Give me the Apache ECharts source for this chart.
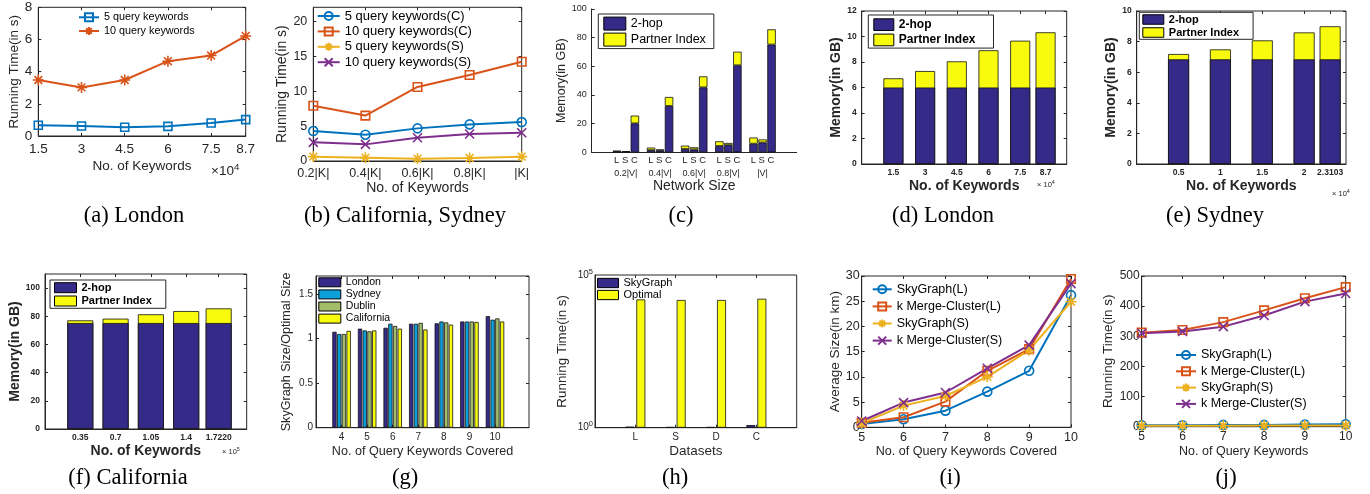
<!DOCTYPE html>
<html><head><meta charset="utf-8">
<script src="https://cdn.jsdelivr.net/npm/echarts@6/dist/echarts.min.js"></script>
<style>html,body{margin:0;padding:0;background:#fff}#c{width:1370px;height:494px}</style>
</head><body><div id="c"></div>
<script>
// ---------------- data ----------------
const aX = [1.5, 3, 4.5, 6, 7.5, 8.7];
const a5 = [0.67, 0.62, 0.54, 0.60, 0.81, 1.02];
const a10 = [3.48, 3.02, 3.48, 4.65, 5.00, 6.22];

const bCats = ['0.2|K|', '0.4|K|', '0.6|K|', '0.8|K|', '|K|'];
const bC5 = [4.29, 3.76, 4.67, 5.24, 5.57];
const bC10 = [7.9, 6.5, 10.6, 12.3, 14.2];
const bS5 = [0.62, 0.48, 0.33, 0.43, 0.62];
const bS10 = [2.67, 2.38, 3.33, 3.86, 4.05];

const cCats = ['0.2|V|', '0.4|V|', '0.6|V|', '0.8|V|', '|V|'];
const cSub = ['L', 'S', 'C'];
const cL2hop = [0.6, 1.5, 2.3, 4.4, 6.0];
const cLPart = [0.4, 1.8, 2.35, 3.3, 4.3];
const cS2hop = [0.4, 1.3, 2.0, 5.0, 6.85];
const cSPart = [0.3, 0.7, 1.5, 1.5, 2.15];
const cC2hop = [20.2, 32.3, 45.3, 60.7, 75.2];
const cCPart = [5.4, 6.3, 7.7, 9.5, 10.6];

const dX = [1.5, 3, 4.5, 6, 7.5, 8.7];
const dTicks = ['1.5', '3', '4.5', '6', '7.5', '8.7'];
const d2hop = [6, 6, 6, 6, 6, 6];
const dPart = [0.72, 1.29, 2.05, 2.92, 3.67, 4.33];

const eX = [0.5, 1, 1.5, 2, 2.3103];
const eTicks = ['0.5', '1', '1.5', '2', '2.3103'];
const e2hop = [6.84, 6.84, 6.84, 6.84, 6.84];
const ePart = [0.35, 0.65, 1.24, 1.76, 2.16];

const fX = [0.35, 0.7, 1.05, 1.4, 1.722];
const fTicks = ['0.35', '0.7', '1.05', '1.4', '1.7220'];
const f2hop = [75.2, 75.2, 75.2, 75.2, 75.2];
const fPart = [1.9, 3.1, 6.2, 8.5, 10.4];

const gCats = ['4', '5', '6', '7', '8', '9', '10'];
const gLondon = [1.075, 1.11, 1.12, 1.165, 1.17, 1.19, 1.25];
const gSydney = [1.05, 1.09, 1.165, 1.165, 1.19, 1.19, 1.21];
const gDublin = [1.05, 1.08, 1.14, 1.175, 1.18, 1.19, 1.225];
const gCalifornia = [1.085, 1.09, 1.11, 1.10, 1.155, 1.185, 1.19];

const hCats = ['L', 'S', 'D', 'C'];
const hSky = [1.08, 1.05, 1.05, 1.22];
const hOpt = [15800, 15200, 15200, 16700];

const iX = [5, 6, 7, 8, 9, 10];
const iSkyL = [0.66, 1.6, 3.3, 7.07, 11.2, 26.2];
const iKmcL = [0.9, 2.0, 5.1, 11.2, 15.5, 29.4];
const iSkyS = [0.8, 4.3, 6.2, 10.0, 15.3, 24.9];
const iKmcS = [1.25, 4.9, 6.9, 11.7, 16.3, 28.5];

const jX = [5, 6, 7, 8, 9, 10];
const jSkyL = [5, 5, 6, 6, 7, 8];
const jKmcL = [312, 321, 347, 386, 426, 463];
const jSkyS = [3, 3, 3, 4, 4, 4];
const jKmcS = [310, 316, 332, 369, 415, 442];

// ---------------- styling helpers ----------------
const FONT = 'Liberation Sans';
const SERIF = 'Liberation Serif';
const TXT = '#262626';
const BLUE = '#0072BD', ORANGE = '#D95319', YEL = '#EDB120', PURP = '#7E2F8E';
const NAVY = '#352A87', BYEL = '#F9FB0E', CYAN = '#0D9FD9', OLIVE = '#A3BD6A';
const STAR = 'path://M0,-10L0,10M-10,0L10,0M-7.07,-7.07L7.07,7.07M-7.07,7.07L7.07,-7.07';
const XMARK = 'path://M-10,-10L10,10M-10,10L10,-10';

const grids = [], xAxes = [], yAxes = [], series = [], legends = [], graphics = [];

function merge(a, b) {
  const out = Object.assign({}, a);
  for (const k in b) {
    const bv = b[k], av = a[k];
    if (bv && typeof bv === 'object' && !Array.isArray(bv) && av && typeof av === 'object' && !Array.isArray(av)) out[k] = merge(av, bv);
    else out[k] = bv;
  }
  return out;
}
function addGrid(l, t, r, b, box) {
  grids.push({left: l, top: t, width: r - l, height: b - t, show: !!box, borderColor: TXT, borderWidth: 1, backgroundColor: 'transparent'});
  return grids.length - 1;
}
function addX(o) { xAxes.push(o); return xAxes.length - 1; }
function addY(o) { yAxes.push(o); return yAxes.length - 1; }
function baseAxis(fs, bold) {
  const fw = bold ? 'bold' : 'normal';
  return {
    axisLine: {show: true, onZero: false, lineStyle: {color: TXT, width: 1}},
    axisTick: {show: true, inside: true, length: 3, lineStyle: {color: TXT}},
    axisLabel: {show: true, color: TXT, fontSize: fs, fontFamily: FONT, fontWeight: fw},
    splitLine: {show: false},
    nameLocation: 'middle',
    nameTextStyle: {color: TXT, fontSize: fs, fontFamily: FONT, fontWeight: fw}
  };
}
function mirror(g, xo, yo, noYTicks) {
  const hide = {axisLine: {show: false}, axisLabel: {show: false}, name: ''};
  xAxes.push(merge(xo, Object.assign({gridIndex: g, position: 'top'}, hide)));
  const y2 = merge(yo, Object.assign({gridIndex: g, position: 'right'}, hide));
  if (noYTicks) y2.axisTick = {show: false};
  yAxes.push(y2);
}
function lineS(name, xs, ys, xa, ya, color, symbol, size) {
  return {type: 'line', name, xAxisIndex: xa, yAxisIndex: ya, data: xs.map((x, i) => [x, ys[i]]),
    symbol, symbolSize: size, showAllSymbol: true, color, clip: false,
    lineStyle: {color, width: 2},
    itemStyle: {color: 'rgba(255,255,255,0)', borderColor: color, borderWidth: 1.6},
    emphasis: {disabled: true}};
}
function barS(name, data, xa, ya, color, stack, bw, gap) {
  const s = {type: 'bar', name, xAxisIndex: xa, yAxisIndex: ya, data, barWidth: bw,
    itemStyle: {color, borderColor: '#111', borderWidth: 0.8}, emphasis: {disabled: true}};
  if (stack) s.stack = stack;
  if (gap != null) s.barGap = gap;
  return s;
}
function legendL(left, firstCenter, spacing, names, fs, iw, ih) {
  return {left, top: firstCenter - spacing / 2, orient: 'vertical', padding: 0, itemGap: 0,
    itemWidth: iw, itemHeight: ih, data: names, selectedMode: false,
    textStyle: {fontFamily: FONT, fontSize: fs, color: '#000', lineHeight: spacing}};
}
function legendP(left, firstCenter, spacing, names, fs, iw, ih) {
  const o = legendL(left, firstCenter, spacing, names, fs, iw, ih);
  o.icon = 'rect';
  o.itemStyle = {borderColor: '#000', borderWidth: 1};
  return o;
}
function legendB(left, top, names, fs, iw, ih, gap, pad, bold) {
  return {left, top, orient: 'vertical', padding: pad, itemGap: gap, itemWidth: iw, itemHeight: ih,
    icon: 'rect', data: names, selectedMode: false, borderColor: TXT, borderWidth: 1, backgroundColor: '#fff',
    itemStyle: {borderColor: '#000', borderWidth: 1},
    textStyle: {fontFamily: FONT, fontSize: fs, fontWeight: bold ? 'bold' : 'normal', color: '#000'}};
}
function supText(x, y, base, sup, fs, bold) {
  const fw = bold ? 'bold' : 'normal';
  return {type: 'text', x, y, silent: true, style: {
    text: '{a|' + base + '}{b|' + sup + '}',
    rich: {a: {fontSize: fs, fontFamily: FONT, fontWeight: fw, fill: TXT},
           b: {fontSize: fs * 0.72, fontFamily: FONT, fontWeight: fw, fill: TXT, padding: [0, 0, fs * 0.6, 0]}},
    align: 'left', verticalAlign: 'middle', textAlign: 'left', textVerticalAlign: 'middle'}};
}
function caption(x, y, t) {
  return {type: 'text', x, y, silent: true, style: {text: t, fontSize: 22.5, fontFamily: SERIF, fill: '#000',
    align: 'center', verticalAlign: 'middle', textAlign: 'center', textVerticalAlign: 'middle'}};
}

// ---------------- (a) ----------------
(function () {
  const g = addGrid(38.3, 7.3, 245.7, 136, true);
  const xo = merge(baseAxis(13.5), {gridIndex: g, type: 'value', min: 1.5, max: 8.7,
    axisTick: {customValues: aX}, axisLabel: {customValues: aX, margin: 6},
    name: 'No. of Keywords', nameGap: 23});
  const yo = merge(baseAxis(13.5), {gridIndex: g, type: 'value', min: 0, max: 8, interval: 2,
    axisLabel: {margin: 6}, name: 'Running Time(in s)', nameGap: 16});
  const xa = addX(xo), ya = addY(yo); mirror(g, xo, yo);
  series.push(lineS('5 query keywords', aX, a5, xa, ya, BLUE, 'rect', 8));
  series.push(lineS('10 query keywords', aX, a10, xa, ya, ORANGE, STAR, 11));
  legends.push(legendL(78, 17.3, 13.7, ['5 query keywords', '10 query keywords'], 10.8, 20, 10));
  graphics.push(supText(211, 171, '×10', '4', 13.5));
})();

// ---------------- (b) ----------------
(function () {
  const g = addGrid(313.3, 7.3, 521.7, 161, true);
  const xo = merge(baseAxis(12.5), {gridIndex: g, type: 'category', data: bCats, boundaryGap: false,
    axisLabel: {margin: 6, interval: 0}, name: 'No. of Keywords', nameGap: 19, nameTextStyle: {fontSize: 14}});
  const yo = merge(baseAxis(12.5), {gridIndex: g, type: 'value', min: 0, max: 22, interval: 5,
    axisLabel: {margin: 6, showMaxLabel: false}, name: 'Running Time(in s)', nameGap: 21, nameTextStyle: {fontSize: 14}});
  const xa = addX(xo), ya = addY(yo); mirror(g, xo, yo);
  series.push(lineS('5 query keywords(C)', bCats, bC5, xa, ya, BLUE, 'circle', 9));
  series.push(lineS('10 query keywords(C)', bCats, bC10, xa, ya, ORANGE, 'rect', 8.5));
  series.push(lineS('5 query keywords(S)', bCats, bS5, xa, ya, YEL, STAR, 11));
  series.push(lineS('10 query keywords(S)', bCats, bS10, xa, ya, PURP, XMARK, 9));
  legends.push(legendL(316.7, 16, 15.4, ['5 query keywords(C)', '10 query keywords(C)', '5 query keywords(S)', '10 query keywords(S)'], 13, 22, 10));
})();

// ---------------- (c) ----------------
(function () {
  const L = 591.7, T = 9, R = 796.7, B = 152.3, unit = (R - L) / 6;
  const g = addGrid(L, T, R, B, false);
  addX(merge(baseAxis(9), {gridIndex: g, type: 'value', min: 0, max: 6, axisTick: {show: false},
    axisLabel: {show: false}, name: 'Network Size', nameGap: 27, nameTextStyle: {fontSize: 14}}));
  addY(merge(baseAxis(9), {gridIndex: g, type: 'value', min: 0, max: 100, interval: 20,
    axisLabel: {margin: 5}, name: 'Memory(in GB)', nameGap: 24, nameTextStyle: {fontSize: 12.5}}));
  const g2 = addGrid(L + unit * 0.5, T, R - unit * 0.5, B, false);
  const sub = cSub.join(' ');
  const xa = addX({gridIndex: g2, type: 'category', data: cCats, axisLine: {show: false}, axisTick: {show: false},
    axisLabel: {margin: 2, interval: 0, formatter: v => '{a|' + sub + '}\n{b|' + v + '}',
      rich: {a: {fontSize: 9.5, fontFamily: FONT, color: TXT, lineHeight: 13},
             b: {fontSize: 9, fontFamily: FONT, color: TXT, lineHeight: 13}}}});
  const ya = addY({gridIndex: g2, type: 'value', min: 0, max: 100, show: false});
  series.push(barS('2-hop', cL2hop, xa, ya, NAVY, 'cL', 8.5, '6%'));
  series.push(barS('Partner Index', cLPart, xa, ya, BYEL, 'cL', 8.5, '6%'));
  series.push(barS('2-hop', cS2hop, xa, ya, NAVY, 'cS', 8.5, '6%'));
  series.push(barS('Partner Index', cSPart, xa, ya, BYEL, 'cS', 8.5, '6%'));
  series.push(barS('2-hop', cC2hop, xa, ya, NAVY, 'cC', 8.5, '6%'));
  series.push(barS('Partner Index', cCPart, xa, ya, BYEL, 'cC', 8.5, '6%'));
  legends.push(legendB(598.3, 14, ['2-hop', 'Partner Index'], 12.5, 22, 13, 2, [2.6, 8, 2, 5], false));
})();

// ---------------- (d)(e)(f) memory bars ----------------
function memPanel(box, xs, ticks, xmax, ymax, yint, h2, part, bw, leg, sup) {
  const g = addGrid(box[0], box[1], box[2], box[3], true);
  const xo = merge(baseAxis(8.5, true), {gridIndex: g, type: 'value', min: 0, max: xmax,
    axisTick: {customValues: xs}, axisLabel: {customValues: xs, margin: 4, formatter: v => ticks[xs.indexOf(v)] || ''},
    name: 'No. of Keywords', nameGap: 15, nameTextStyle: {fontSize: 14}});
  const yo = merge(baseAxis(8.5, true), {gridIndex: g, type: 'value', min: 0, max: ymax, interval: yint,
    axisLabel: {margin: 5, showMaxLabel: ymax % yint === 0}, name: 'Memory(in GB)', nameGap: box[4], nameTextStyle: {fontSize: 14}});
  const xa = addX(xo), ya = addY(yo); mirror(g, xo, yo);
  // Partner Index sits on top of 2-hop: draw the total first, then 2-hop over it
  series.push(barS('Partner Index', xs.map((x, i) => [x, h2[i] + part[i]]), xa, ya, BYEL, null, bw, '-100%'));
  series.push(barS('2-hop', xs.map((x, i) => [x, h2[i]]), xa, ya, NAVY, null, bw, '-100%'));
  legends.push(legendB(leg[0], leg[1], ['2-hop', 'Partner Index'], leg[2], leg[3], leg[4], leg[5], leg[6], true));
  graphics.push(supText(sup[0], sup[1], '× 10', sup[2], sup[3]));
}
memPanel([861.7, 11, 1066.7, 164, 15.4], dX, dTicks, 9.7, 12, 2, d2hop, dPart, 20,
  [868.3, 15, 12, 20, 11.7, 2.6, [3.3, 18, 1.8, 5]], [1037, 184.5, '4', 7.5]);
memPanel([1136.7, 11, 1346, 164, 14.7], eX, eTicks, 2.5, 10, 2, e2hop, ePart, 21,
  [1139.3, 12.3, 11, 21, 9.5, 2, [1.7, 14, 1.3, 3]], [1332, 193.5, '4', 7.5]);
memPanel([45, 274, 246.7, 429, 23], fX, fTicks, 2, 110, 20, f2hop, fPart, 26,
  [50, 280, 11, 22, 10, 2.3, [2.2, 14, 1.8, 4]], [222, 452, '5', 7.5]);

// ---------------- (g) ----------------
(function () {
  const L = 316, T = 276, R = 529, B = 427.7, xmin = 3, xmax = 11.33, unit = (R - L) / (xmax - xmin);
  const gv = gCats.map(Number);
  const g = addGrid(L, T, R, B, true);
  const xo = merge(baseAxis(10), {gridIndex: g, type: 'value', min: xmin, max: xmax,
    axisTick: {customValues: gv}, axisLabel: {customValues: gv, margin: 5},
    name: 'No. of Query Keywords Covered', nameGap: 17.5, nameTextStyle: {fontSize: 12.6}});
  const yo = merge(baseAxis(10), {gridIndex: g, type: 'value', min: 0, max: 1.7, interval: 0.5,
    axisLabel: {margin: 3, showMaxLabel: false}, name: 'SkyGraph Size/Optimal Size', nameGap: 23, nameTextStyle: {fontSize: 12.6}});
  addX(xo); addY(yo); mirror(g, xo, yo);
  const g2 = addGrid(L + unit * (gv[0] - 0.5 - xmin), T, L + unit * (gv[gv.length - 1] + 0.5 - xmin), B, false);
  const xa = addX({gridIndex: g2, type: 'category', data: gCats, show: false});
  const ya = addY({gridIndex: g2, type: 'value', min: 0, max: 1.7, show: false});
  series.push(barS('London', gLondon, xa, ya, NAVY, null, 4.3, '10%'));
  series.push(barS('Sydney', gSydney, xa, ya, CYAN, null, 4.3, '10%'));
  series.push(barS('Dublin', gDublin, xa, ya, OLIVE, null, 4.3, '10%'));
  series.push(barS('California', gCalifornia, xa, ya, BYEL, null, 4.3, '10%'));
  legends.push(legendP(318.3, 282.3, 12.1, ['London', 'Sydney', 'Dublin', 'California'], 10.5, 22, 9));
})();

// ---------------- (h) ----------------
(function () {
  const L = 595, T = 275, R = 796.7, B = 427.7, unit = (R - L) / 5;
  const pos = hCats.map((c, i) => i + 1);
  const g = addGrid(L, T, R, B, true);
  const xo = merge(baseAxis(10), {gridIndex: g, type: 'value', min: 0, max: 5,
    axisTick: {customValues: pos}, axisLabel: {show: false},
    name: 'Datasets', nameGap: 17, nameTextStyle: {fontSize: 13.5}});
  const yo = merge(baseAxis(10), {gridIndex: g, type: 'log', logBase: 10, min: 1, max: 100000,
    axisTick: {show: false},
    axisLabel: {margin: 2, formatter: v => (v === 1 || v === 100000) ? '{a|10}{b|' + Math.round(Math.log10(v)) + '}' : '',
      rich: {a: {fontSize: 10, fontFamily: FONT, color: TXT}, b: {fontSize: 7.5, fontFamily: FONT, color: TXT, padding: [0, 0, 7, 0]}}},
    name: 'Running Time(in s)', nameGap: 26.5, nameTextStyle: {fontSize: 13.4}});
  addX(xo); addY(yo); mirror(g, xo, yo, true);
  const g2 = addGrid(L + unit * 0.5, T, R - unit * 0.5, B, false);
  const xa = addX({gridIndex: g2, type: 'category', data: hCats, axisLine: {show: false}, axisTick: {show: false},
    axisLabel: {margin: 5, interval: 0, color: TXT, fontSize: 10, fontFamily: FONT}});
  const ya = addY({gridIndex: g2, type: 'log', logBase: 10, min: 1, max: 100000, show: false});
  series.push(barS('SkyGraph', hSky, xa, ya, NAVY, null, 9, '22%'));
  series.push(barS('Optimal', hOpt, xa, ya, BYEL, null, 9, '22%'));
  legends.push(legendP(597, 283, 12, ['SkyGraph', 'Optimal'], 11, 21, 9.3));
})();

// ---------------- (i) ----------------
(function () {
  const g = addGrid(861.7, 276, 1071, 427.3, true);
  const xo = merge(baseAxis(12.5), {gridIndex: g, type: 'value', min: 5, max: 10, interval: 1,
    axisLabel: {margin: 4}, name: 'No. of Query Keywords Covered', nameGap: 18, nameTextStyle: {fontSize: 12.6}});
  const yo = merge(baseAxis(12.5), {gridIndex: g, type: 'value', min: 0, max: 30, interval: 5,
    axisLabel: {margin: 2}, name: 'Average Size(in km)', nameGap: 19, nameTextStyle: {fontSize: 13.5}});
  const xa = addX(xo), ya = addY(yo); mirror(g, xo, yo);
  series.push(lineS('SkyGraph(L)', iX, iSkyL, xa, ya, BLUE, 'circle', 9));
  series.push(lineS('k Merge-Cluster(L)', iX, iKmcL, xa, ya, ORANGE, 'rect', 8.5));
  series.push(lineS('SkyGraph(S)', iX, iSkyS, xa, ya, YEL, STAR, 11));
  series.push(lineS('k Merge-Cluster(S)', iX, iKmcS, xa, ya, PURP, XMARK, 9));
  legends.push(legendL(871.7, 289.3, 17.1, ['SkyGraph(L)', 'k Merge-Cluster(L)', 'SkyGraph(S)', 'k Merge-Cluster(S)'], 12.5, 19, 10));
})();

// ---------------- (j) ----------------
(function () {
  const g = addGrid(1141.7, 276, 1345.7, 426.7, true);
  const xo = merge(baseAxis(12), {gridIndex: g, type: 'value', min: 5, max: 10, interval: 1,
    axisLabel: {margin: 4}, name: 'No. of Query Keywords', nameGap: 18, nameTextStyle: {fontSize: 12.5}});
  const yo = merge(baseAxis(12), {gridIndex: g, type: 'value', min: 0, max: 500, interval: 100,
    axisLabel: {margin: 2}, name: 'Running Time(in s)', nameGap: 24, nameTextStyle: {fontSize: 13.5}});
  const xa = addX(xo), ya = addY(yo); mirror(g, xo, yo);
  series.push(lineS('SkyGraph(L)', jX, jSkyL, xa, ya, BLUE, 'circle', 9));
  series.push(lineS('k Merge-Cluster(L)', jX, jKmcL, xa, ya, ORANGE, 'rect', 8.5));
  series.push(lineS('SkyGraph(S)', jX, jSkyS, xa, ya, YEL, STAR, 11));
  series.push(lineS('k Merge-Cluster(S)', jX, jKmcS, xa, ya, PURP, XMARK, 9));
  legends.push(legendL(1175, 355, 16.3, ['SkyGraph(L)', 'k Merge-Cluster(L)', 'SkyGraph(S)', 'k Merge-Cluster(S)'], 12.5, 20, 10));
})();

// ---------------- captions ----------------
const captionsTop = ['(a) London', '(b) California, Sydney', '(c)', '(d) London', '(e) Sydney'];
const captionsBottom = ['(f) California', '(g)', '(h)', '(i)', '(j)'];
const capXTop = [134, 405, 681, 943, 1215];
const capXBottom = [128, 405, 675, 950, 1226];
captionsTop.forEach((t, i) => graphics.push(caption(capXTop[i], 216, t)));
captionsBottom.forEach((t, i) => graphics.push(caption(capXBottom[i], 478, t)));

const chart = echarts.init(document.getElementById('c'), null, {renderer: 'canvas', width: 1370, height: 494});
chart.setOption({
  animation: false,
  backgroundColor: '#fff',
  textStyle: {fontFamily: FONT},
  grid: grids, xAxis: xAxes, yAxis: yAxes, series, legend: legends,
  graphic: {elements: graphics}
});
</script>
</body></html>
